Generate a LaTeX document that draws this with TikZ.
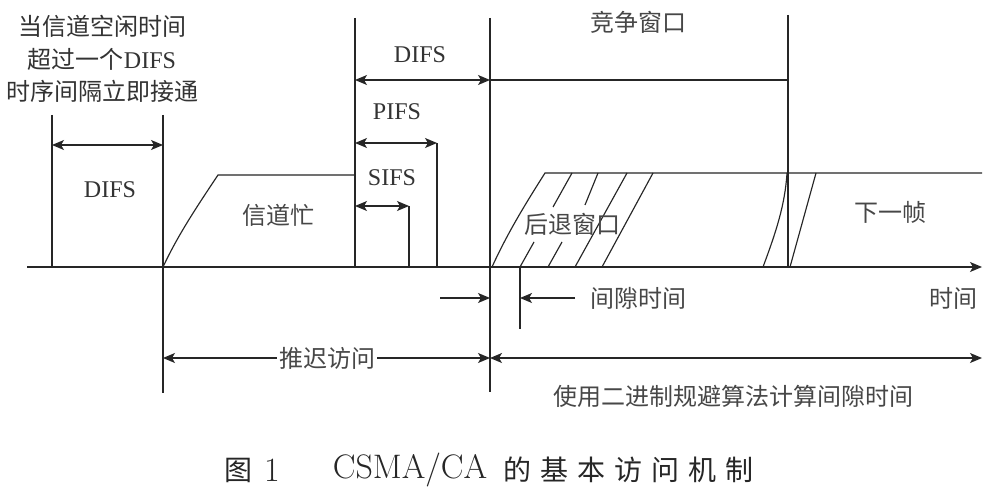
\documentclass[tikz,border=0pt]{standalone}
\usepackage{fontspec}
\newfontfamily\tnr{Liberation Serif}
\newfontfamily\cjk{Noto Sans CJK SC}
\usetikzlibrary{arrows.meta}
\begin{document}
\begin{tikzpicture}[x=1pt,y=-1pt,
  ln/.style={line width=1.15pt, draw=black!85},
  tip/.tip={Stealth[length=12pt,width=10pt,inset=3pt]},
  dim/.style={ln, tip-tip},
  rarr/.style={ln, -tip},
  lab/.style={font=\tnr\fontsize{24}{28}\selectfont, text=black!80, inner sep=0pt},
  zh/.style={font=\cjk\fontsize{24}{28}\selectfont, text=black!72, inner sep=0pt},
]
\useasboundingbox (0,0) rectangle (998,492);
\fill[white] (0,0) rectangle (998,492);

% key coordinates
\coordinate (axL) at (27,267);
\coordinate (axR) at (982,267);
\coordinate (aT) at (52,115);   \coordinate (aB) at (52,267);
\coordinate (bT) at (163,115);  \coordinate (bB) at (163,393);
\coordinate (cT) at (355,18);   \coordinate (cB) at (355,267);
\coordinate (dT) at (490,18);   \coordinate (dB) at (490,392);
\coordinate (eT) at (788,15);   \coordinate (eB) at (788,267);

% time axis
\draw[rarr] (axL) -- (axR);

% main vertical lines
\draw[ln] (aT) -- (aB);
\draw[ln] (bT) -- (bB);
\draw[ln] (cT) -- (cB);
\draw[ln] (dT) -- (dB);
\draw[ln] (eT) -- (eB);

% first DIFS
\coordinate (d1L) at (52,145); \coordinate (d1R) at (163,145);
\draw[dim] (d1L) -- (d1R);
\node[lab] (difs1) at (110,190) {DIFS};

% top-left text
\node[lab, align=center, font=\tnr\fontsize{24}{32.5}\selectfont] (idle) at (102,59)
  {{\cjk 当信道空闲时间}\\{\cjk 超过一个}DIFS\\{\cjk 时序间隔立即接通}};

% busy channel
\coordinate (busyA) at (218,175); \coordinate (busyB) at (355,175);
\draw[ln] (bB |- axL) .. controls (178,235) and (196,208) .. (busyA) -- (busyB);
\node[zh] (busy) at (278,215) {信道忙};

% second DIFS + contention window line
\coordinate (d2L) at (355,80); \coordinate (d2R) at (490,80); \coordinate (cwR) at (788,80);
\draw[dim] (d2L) -- (d2R);
\draw[ln] (d2R) -- (cwR);
\node[lab] (difs2) at (420,55) {DIFS};
\node[zh] (cw) at (638,22) {竞争窗口};

% PIFS
\coordinate (pL) at (355,143); \coordinate (pR) at (437,143); \coordinate (pB) at (437,267);
\draw[dim] (pL) -- (pR);
\draw[ln] (pR) -- (pB);
\node[lab] (pifs) at (397,112) {PIFS};

% SIFS
\coordinate (sL) at (355,206); \coordinate (sR) at (409,206); \coordinate (sB) at (409,267);
\draw[dim] (sL) -- (sR);
\draw[ln] (sR) -- (sB);
\node[lab] (sifs) at (392,178) {SIFS};

% backoff window
\coordinate (topL) at (545,173); \coordinate (topR) at (982,173);
\draw[ln] (492,267) .. controls (508,232) and (526,203) .. (topL) -- (topR);
\draw[ln] (520,267) -- (534,242);
\draw[ln] (553,207) -- (572,173);
\draw[ln] (548,267) -- (562,242);
\draw[ln] (585,205) -- (598,173);
\draw[ln] (575,267) -- (627,173);
\draw[ln] (602,267) -- (653,173);
\node[zh] (bo) at (572,224) {后退窗口};

% next frame
\draw[ln] (763,267) .. controls (776,232) and (785,205) .. (787,173);
\draw[ln] (790,267) -- (816,173);
\node[zh] (nf) at (890,212) {下一帧};

% slot time
\coordinate (slT) at (520,267); \coordinate (slB) at (520,329);
\draw[ln] (slT) -- (slB);
\coordinate (g1s) at (440,298); \coordinate (g1e) at (490,298);
\coordinate (g2s) at (575,298); \coordinate (g2e) at (520,298);
\draw[rarr] (g1s) -- (g1e);
\draw[rarr] (g2s) -- (g2e);
\node[zh] (slot) at (638,298) {间隙时间};
\node[zh] (time) at (953,298) {时间};

% defer access
\coordinate (dfL) at (163,358); \coordinate (dfR) at (490,358); \coordinate (bkR) at (982,358);
\draw[dim] (dfL) -- (dfR);
\node[zh, fill=white, inner xsep=2pt, inner ysep=1pt] (defer) at (327,358) {推迟访问};
\draw[dim] (dfR) -- (bkR);
\node[zh] (binexp) at (733,396) {使用二进制规避算法计算间隙时间};

% caption
\node[inner sep=0pt, font=\cjk\fontsize{28}{32}\selectfont, text=black!85] (capA) at (238,470) {图};
\node[inner sep=0pt, font=\rmfamily\fontsize{34}{38}\selectfont, text=black!85] (capB) at (272,470) {1};
\node[inner sep=0pt, font=\rmfamily\fontsize{34}{38}\selectfont, text=black!85] (capC) at (410,470) {CSMA/CA};
\node[inner sep=0pt, anchor=west, font=\cjk\fontsize{28}{32}\selectfont, text=black!85] (capD) at (503,470)
  {的\hspace{9pt}基\hspace{9pt}本\hspace{9pt}访\hspace{9pt}问\hspace{9pt}机\hspace{9pt}制};
\end{tikzpicture}
\end{document}
